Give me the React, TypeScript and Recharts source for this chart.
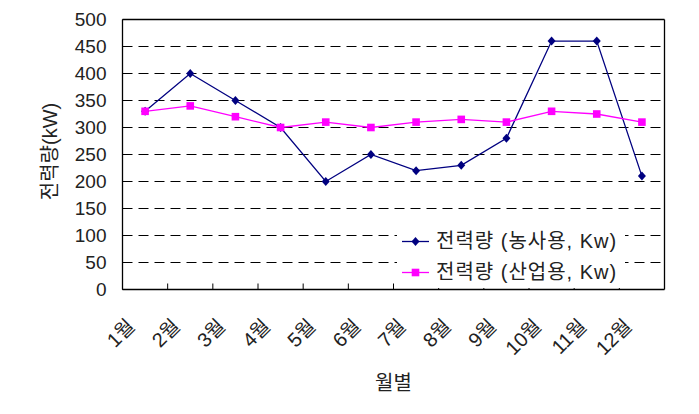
import { LineChart, Line, XAxis, YAxis, CartesianGrid, Legend, Label } from "recharts"

const months = ["1월", "2월", "3월", "4월", "5월", "6월", "7월", "8월", "9월", "10월", "11월", "12월"]
const farmUse = [330, 400, 350, 300, 200, 250, 220, 230, 280, 460, 460, 210]
const industryUse = [330, 340, 320, 300, 310, 300, 310, 315, 310, 330, 325, 310]
const yTicks = [0, 50, 100, 150, 200, 250, 300, 350, 400, 450, 500]

const data = months.map((m, i) => ({ month: m, farm: farmUse[i], industry: industryUse[i] }))

const NAVY = "#000080"
const MAGENTA = "#FF00FF"
const TEXT = "#222"
const FONT = "'Liberation Sans', 'Noto Sans CJK KR', sans-serif"

// plot area is 542px wide, 12 categories
const BAND = 542 / 12

function MonthTick({ x, y, payload }: any) {
  const tx = x - 9
  const ty = y + 38
  return (
    <g>
      <line x1={x - BAND / 2} y1={y} x2={x - BAND / 2} y2={y - 6} stroke="#000" />
      <text x={tx} y={ty} transform={`rotate(-45, ${tx}, ${ty})`} textAnchor="end" fontSize={20} fill={TEXT}>
        {payload.value}
      </text>
    </g>
  )
}

function YTitle({ viewBox }: any) {
  const cx = viewBox.x - 13
  const cy = viewBox.y + viewBox.height / 2 - 3
  return (
    <text x={cx} y={cy} transform={`rotate(-90, ${cx}, ${cy})`} textAnchor="middle" dominantBaseline="central" fontSize={20} fill={TEXT}>
      전력량(kW)
    </text>
  )
}

function XTitle({ viewBox }: any) {
  return (
    <text x={viewBox.x + viewBox.width / 2} y={viewBox.y + 93} textAnchor="middle" dominantBaseline="central" fontSize={20} fill={TEXT}>
      월별
    </text>
  )
}

const Diamond = ({ cx, cy, index }: any) => (
  <path key={index} d={`M${cx},${cy - 4.5}L${cx + 4},${cy}L${cx},${cy + 4.5}L${cx - 4},${cy}Z`} fill={NAVY} />
)

const Square = ({ cx, cy, index }: any) => (
  <rect key={index} x={cx - 3.8} y={cy - 3.8} width={7.6} height={7.6} fill={MAGENTA} />
)

function LegendBox({ payload }: any) {
  return (
    <div style={{ background: "#fff", width: 228, height: 62, fontSize: 20, color: TEXT, fontFamily: FONT }}>
      {(payload || []).map((entry: any, i: number) => (
        <div key={i} style={{ display: "flex", alignItems: "center", height: 31 }}>
          <svg width={39} height={31} style={{ flex: "none" }}>
            <line x1={5} x2={32} y1={15.5} y2={15.5} stroke={entry.color} strokeWidth={1.3} />
            {i === 0 ? (
              <path d="M18.5,11L22.5,15.5L18.5,20L14.5,15.5Z" fill={entry.color} />
            ) : (
              <rect x={14.7} y={11.7} width={7.6} height={7.6} fill={entry.color} />
            )}
          </svg>
          <span style={{ whiteSpace: "nowrap", lineHeight: "31px", letterSpacing: 1 }}>{entry.value}</span>
        </div>
      ))}
    </div>
  )
}

export default function App() {
  return (
    <div style={{ position: "absolute", left: 0, top: 0, width: 699, height: 414, background: "#fff" }}>
      <LineChart
        width={699}
        height={414}
        data={data}
        margin={{ top: 18.5, right: 33.5, left: 62.5, bottom: 24.5 }}
        style={{ fontFamily: FONT }}
      >
        <CartesianGrid horizontal vertical={false} stroke="#000" strokeDasharray="10 6" />
        <XAxis
          dataKey="month"
          height={100}
          interval={0}
          padding={{ left: BAND / 2, right: BAND / 2 }}
          tickLine={false}
          tickSize={0}
          tickMargin={0}
          axisLine={{ stroke: "#000", strokeWidth: 1.3 }}
          tick={<MonthTick />}
          label={<Label content={<XTitle />} />}
        />
        <XAxis xAxisId="top" orientation="top" height={1} tick={false} tickLine={false} axisLine={{ stroke: "#000", strokeWidth: 1.3 }} />
        <YAxis
          domain={[0, 500]}
          ticks={yTicks}
          interval={0}
          width={60}
          tickLine={false}
          tickSize={0}
          tickMargin={16}
          axisLine={{ stroke: "#000", strokeWidth: 1.3 }}
          tick={{ fontSize: 19, fill: TEXT }}
          label={<Label content={<YTitle />} />}
        />
        <YAxis yAxisId="right" orientation="right" width={1} domain={[0, 500]} tick={false} tickLine={false} axisLine={{ stroke: "#000", strokeWidth: 1.3 }} />
        <Legend
          layout="vertical"
          align="center"
          verticalAlign="middle"
          content={<LegendBox />}
          wrapperStyle={{ position: "absolute", left: 397, top: 226, width: 228, height: 62 }}
        />
        <Line
          type="linear"
          dataKey="farm"
          name="전력량 (농사용, Kw)"
          stroke={NAVY}
          strokeWidth={1.3}
          dot={<Diamond />}
          activeDot={false}
          isAnimationActive={false}
        />
        <Line
          type="linear"
          dataKey="industry"
          name="전력량 (산업용, Kw)"
          stroke={MAGENTA}
          strokeWidth={1.3}
          dot={<Square />}
          activeDot={false}
          isAnimationActive={false}
        />
      </LineChart>
    </div>
  )
}
